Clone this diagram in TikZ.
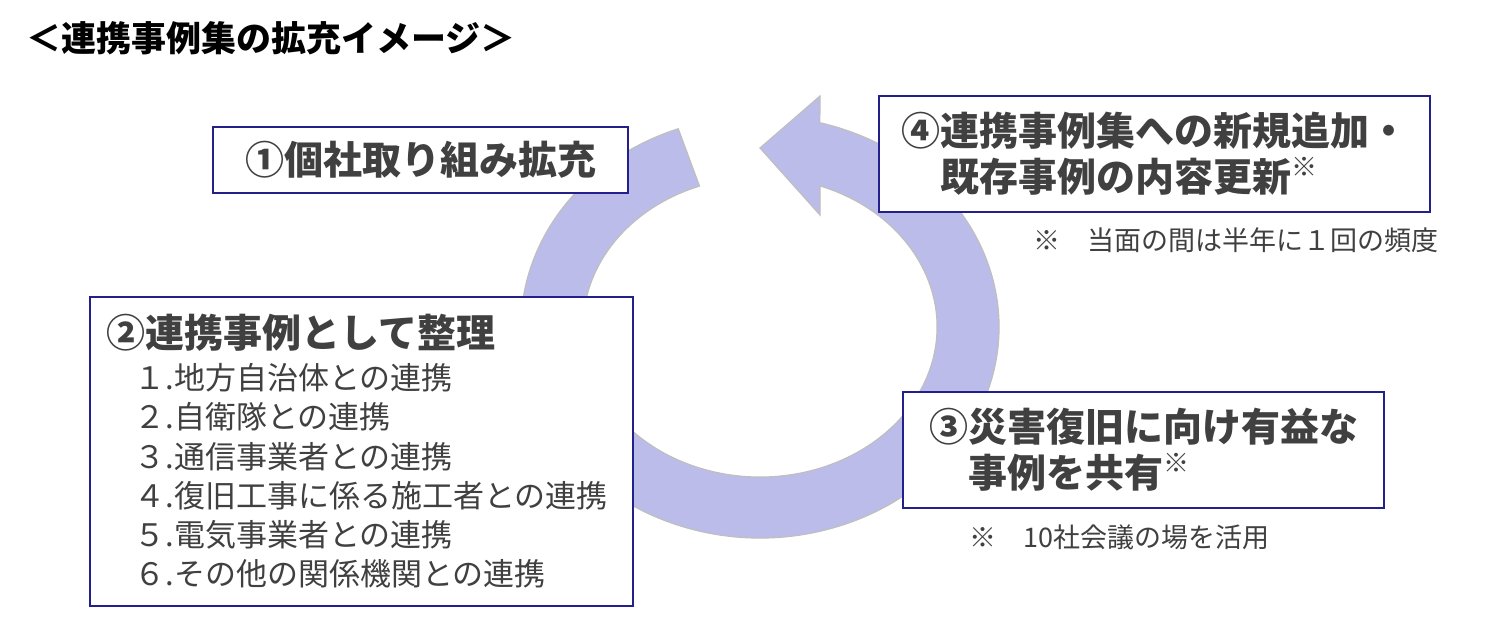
\documentclass[tikz,border=0pt]{standalone}
\usepackage{fontspec}
\setmainfont{Noto Sans CJK JP}
\usetikzlibrary{positioning}
\definecolor{Navy}{HTML}{23208C}
\definecolor{Ring}{HTML}{BBBCEA}
\definecolor{RingEdge}{HTML}{BFBFBF}
\definecolor{Ink}{HTML}{404040}

\begin{document}
\begin{tikzpicture}[
  x=1pt,y=-1pt,
  box/.style={draw=Navy,line width=2.5pt,fill=white,inner sep=0pt},
  big/.style={font=\fontsize{39}{46}\selectfont\bfseries,text=Ink,align=left},
  item/.style={font=\fontsize{31}{36}\selectfont,text=Ink,anchor=west},
  note/.style={font=\fontsize{27}{32}\selectfont,text=Ink,anchor=west}
]
  \useasboundingbox (0,0) rectangle (1512,616);
  \node[anchor=west,font=\fontsize{35}{40}\selectfont\bfseries] (title) at (23,38) {＜連携事例集の拡充イメージ＞};

  \fill[Ring,draw=RingEdge,line width=1.2pt] (760,327) ++(-110:239 and 211)
    arc[start angle=-110,end angle=-435.5,x radius=239,y radius=211]
    -- (820,96) -- (760,148) -- (820,215) -- (820,185.9)
    arc[start angle=-430.2,end angle=-110,x radius=177,y radius=150] -- cycle;

  \node[box,big,minimum width=415,minimum height=66] (expand) at (420.5,160) {①個社取り組み拡充};
  \node[box,big,minimum width=551,minimum height=116] (update) at (1154.5,154)
    {④連携事例集への新規追加・\\　既存事例の内容更新\raisebox{.4em}{\fontsize{26}{26}\selectfont ※}};
  \node[box,big,minimum width=481,minimum height=116] (share) at (1143.5,450)
    {③災害復旧に向け有益な\\　事例を共有\raisebox{.4em}{\fontsize{26}{26}\selectfont ※}};
  \node[box,minimum width=543,minimum height=309] (sort) at (361.5,451.5) {};

  \node[big,anchor=west] (sorttitle) at (103,333) {②連携事例として整理};
  \foreach \txt [count=\i] in {１.地方自治体との連携,２.自衛隊との連携,３.通信事業者との連携,
      ４.復旧工事に係る施工者との連携,５.電気事業者との連携,６.その他の関係機関との連携}
    \node[item] (item\i) at (131,{378+39.2*(\i-1)}) {\txt};

  \node[note] (updatenote) at (1030,240) {※　当面の間は半年に１回の頻度};
  \node[note] (sharenote) at (966,537) {※　10社会議の場を活用};
\end{tikzpicture}
\end{document}
